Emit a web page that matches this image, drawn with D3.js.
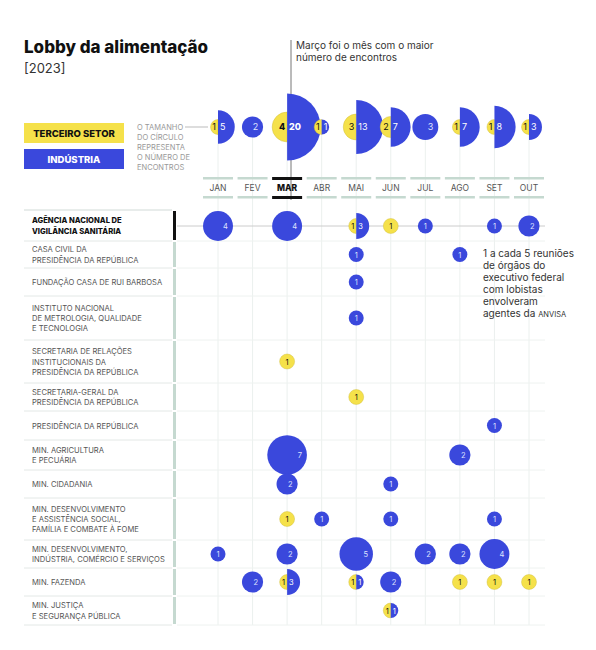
<!DOCTYPE html><html><head><meta charset="utf-8"><script src="https://cdn.jsdelivr.net/npm/d3@7"></script>
<style>body{margin:0;background:#fff;font-family:'Inter','Noto Sans',sans-serif}</style></head><body><svg id="c" width="596" height="650"></svg>
<script>
const months=["JAN","FEV","MAR","ABR","MAI","JUN","JUL","AGO","SET","OUT"];
const totalTerceiro=[1,0,4,1,3,2,0,1,1,1];
const totalIndustria=[5,2,20,1,13,7,3,7,8,3];
const orgaos=["AGÊNCIA NACIONAL DE|VIGILÂNCIA SANITÁRIA","CASA CIVIL DA|PRESIDÊNCIA DA REPÚBLICA","FUNDAÇÃO CASA DE RUI BARBOSA","INSTITUTO NACIONAL|DE METROLOGIA, QUALIDADE|E TECNOLOGIA","SECRETARIA DE RELAÇÕES|INSTITUCIONAIS DA|PRESIDÊNCIA DA REPÚBLICA","SECRETARIA-GERAL DA|PRESIDÊNCIA DA REPÚBLICA","PRESIDÊNCIA DA REPÚBLICA","MIN. AGRICULTURA|E PECUÁRIA","MIN. CIDADANIA","MIN. DESENVOLVIMENTO|E ASSISTÊNCIA SOCIAL,|FAMÍLIA E COMBATE À FOME","MIN. DESENVOLVIMENTO,|INDÚSTRIA, COMÉRCIO E SERVIÇOS","MIN. FAZENDA","MIN. JUSTIÇA|E SEGURANÇA PÚBLICA"];
const rowTop=[210,241,268,296,340,383,411,440,470,498,540,568,596,625];
// [row, month, terceiro, industria]
const encontros=[
[0,"JAN",0,4],[0,"MAR",0,4],[0,"MAI",1,3],[0,"JUN",1,0],[0,"JUL",0,1],[0,"SET",0,1],[0,"OUT",0,2],
[1,"MAI",0,1],[1,"AGO",0,1],[2,"MAI",0,1],[3,"MAI",0,1],[4,"MAR",1,0],[5,"MAI",1,0],[6,"SET",0,1],
[7,"MAR",0,7],[7,"AGO",0,2],[8,"MAR",0,2],[8,"JUN",0,1],
[9,"MAR",1,0],[9,"ABR",0,1],[9,"JUN",0,1],[9,"SET",0,1],
[10,"JAN",0,1],[10,"MAR",0,2],[10,"MAI",0,5],[10,"JUL",0,2],[10,"AGO",0,2],[10,"SET",0,4],
[11,"FEV",0,2],[11,"MAR",1,3],[11,"MAI",1,1],[11,"JUN",0,2],[11,"AGO",1,0],[11,"SET",1,0],[11,"OUT",1,0],
[12,"JUN",1,1]];
const Y="#f5e14a",B="#3a48dc",G="#c5d9d0";
const svg=d3.select("#c");
const x=d3.scalePoint().domain(months).range([218,529]);
const r=d3.scaleSqrt().domain([0,20]).range([0,33.5]);
const ry=i=>i==0?226:(rowTop[i]+rowTop[i+1])/2;
// title
svg.append("text").attr("x",24).attr("y",53).attr("font-size",17).attr("font-weight",800).attr("fill","#111").text("Lobby da alimentação");
svg.append("text").attr("x",24).attr("y",73).attr("font-size",13).attr("fill","#333").text("[2023]");
// legend
svg.append("rect").attr("x",24).attr("y",123).attr("width",100).attr("height",20).attr("fill",Y);
svg.append("text").attr("x",74).attr("y",137).attr("text-anchor","middle").attr("font-size",9.5).attr("font-weight",800).attr("fill","#111").text("TERCEIRO SETOR");
svg.append("rect").attr("x",24).attr("y",149).attr("width",100).attr("height",20).attr("fill",B);
svg.append("text").attr("x",74).attr("y",163).attr("text-anchor","middle").attr("font-size",9.5).attr("font-weight",800).attr("fill","#fff").text("INDÚSTRIA");
["O TAMANHO","DO CÍRCULO","REPRESENTA","O NÚMERO DE","ENCONTROS"].forEach((t,i)=>svg.append("text").attr("x",137).attr("y",130+i*10).attr("font-size",7.5).attr("fill","#999").text(t));
svg.append("line").attr("x1",185).attr("x2",208).attr("y1",127).attr("y2",127).attr("stroke","#aaa").attr("stroke-width",0.8);
// annotation
svg.append("line").attr("x1",291).attr("x2",291).attr("y1",40).attr("y2",200).attr("stroke","#777").attr("stroke-width",1);
svg.append("text").attr("x",296).attr("y",49).attr("font-size",10).attr("fill","#333").text("Março foi o mês com o maior");
svg.append("text").attr("x",296).attr("y",61).attr("font-size",10).attr("fill","#333").text("número de encontros");
// grid
const g=svg.append("g");
months.forEach(m=>{g.append("line").attr("x1",x(m)).attr("x2",x(m)).attr("y1",127).attr("y2",625).attr("stroke","#e6ecea").attr("stroke-width",0.8);});
rowTop.forEach((t,i)=>{g.append("line").attr("x1",24).attr("x2",172).attr("y1",t).attr("y2",t).attr("stroke","#e3e8e6");
 if(i>0)g.append("line").attr("x1",177).attr("x2",545).attr("y1",t).attr("y2",t).attr("stroke","#eef2f0");});
g.append("line").attr("x1",24).attr("x2",172).attr("y1",210).attr("y2",210).attr("stroke","#dfe6e3");
g.append("line").attr("x1",177).attr("x2",545).attr("y1",226).attr("y2",226).attr("stroke","#ccc");
// month axis
months.forEach(m=>{const mar=m=="MAR",c=mar?"#111":G;
 g.append("rect").attr("x",x(m)-15).attr("y",177).attr("width",30).attr("height",mar?3:2.5).attr("fill",c);
 g.append("rect").attr("x",x(m)-15).attr("y",196).attr("width",30).attr("height",mar?3:2.5).attr("fill",c);
 g.append("text").attr("x",x(m)).attr("y",191).attr("text-anchor","middle").attr("font-size",8.5).attr("font-weight",mar?800:400).attr("fill",mar?"#111":"#555").text(m);});
// row labels
orgaos.forEach((o,i)=>{const lines=o.split("|"),h=rowTop[i+1]-rowTop[i],c=(rowTop[i]+rowTop[i+1])/2;
 lines.forEach((l,j)=>svg.append("text").attr("x",32).attr("y",c-(lines.length-1)*5.2+j*10.4+3).attr("font-size",7.6).attr("font-weight",i==0?800:400).attr("fill",i==0?"#111":"#555").text(l));
 svg.append("rect").attr("x",173).attr("y",rowTop[i]+1).attr("width",3).attr("height",h-2).attr("fill",i==0?"#111":G);});
// bubble drawing
function bubble(cx,cy,t,ind,big){
 const arc=d3.arc().innerRadius(0);
 const gg=svg.append("g").attr("transform",`translate(${cx},${cy})`);
 const fs=big?9:7.5;
 if(t&&ind){
  gg.append("path").attr("d",arc({outerRadius:r(t),startAngle:Math.PI,endAngle:2*Math.PI})).attr("fill",Y).attr("stroke","#c9b838").attr("stroke-width",0.4);
  gg.append("path").attr("d",arc({outerRadius:r(ind),startAngle:0,endAngle:Math.PI})).attr("fill",B);
  gg.append("text").attr("x",-2).attr("y",3).attr("text-anchor","end").attr("font-size",fs).attr("font-weight",t>=4?800:400).attr("fill","#111").text(t);
  gg.append("text").attr("x",2).attr("y",3).attr("font-size",fs).attr("font-weight",ind>=20?800:400).attr("fill","#fff").text(ind);
 } else {
  const v=t||ind;
  gg.append("circle").attr("r",r(v)).attr("fill",t?Y:B).attr("stroke",t?"#c9b838":"none").attr("stroke-width",0.4);
  gg.append("text").attr("x",v>1?r(v)-5:0).attr("y",3).attr("text-anchor",v>1?"end":"middle").attr("font-size",fs).attr("fill",t?"#111":"#dfe3ff").text(v);
 }
}
months.forEach((m,i)=>bubble(x(m),127,totalTerceiro[i],totalIndustria[i],true));
encontros.forEach(([ri,m,t,ind])=>bubble(x(m),ry(ri),t,ind,false));
// note
["1 a cada 5 reuniões","de órgãos do","executivo federal","com lobistas","envolveram"].forEach((t,i)=>svg.append("text").attr("x",483).attr("y",257+i*12).attr("font-size",10).attr("fill","#333").text(t));
const nt=svg.append("text").attr("x",483).attr("y",317).attr("font-size",10).attr("fill","#333");
nt.append("tspan").text("agentes da ");nt.append("tspan").attr("font-size",7.5).text("ANVISA");
</script></body></html>
